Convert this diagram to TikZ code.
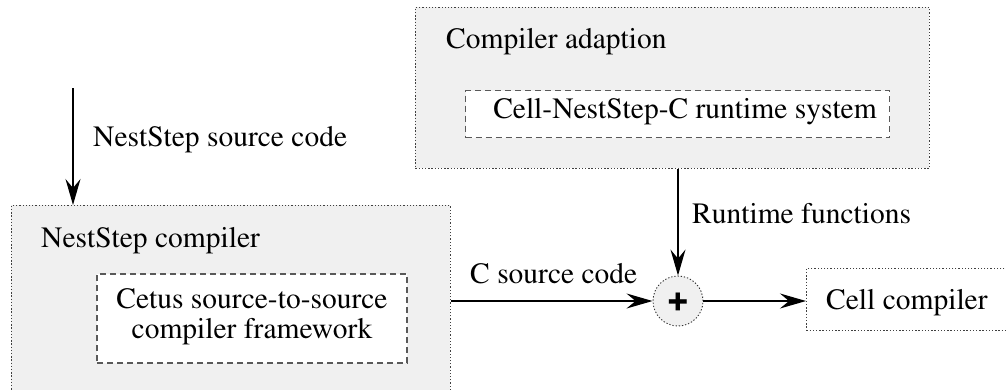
\documentclass[tikz,border=0pt]{standalone}
\usepackage[T1]{fontenc}
\renewcommand{\rmdefault}{ptm}
\usetikzlibrary{arrows.meta}

\tikzset{
  groupbox/.style={draw=black!75, fill=black!6, line width=0.9pt,
    dash pattern=on 1.3pt off 1.9pt, inner sep=0pt},
  partbox/.style={draw=black!65, fill=white, line width=1.3pt,
    dash pattern=on 6pt off 4pt, inner sep=0pt},
  unitbox/.style={draw=black!75, fill=white, line width=0.9pt,
    dash pattern=on 1.3pt off 1.9pt, inner sep=0pt},
  joinnode/.style={circle, draw=black!80, fill=black!6, line width=0.9pt,
    dash pattern=on 1.3pt off 1.9pt, minimum size=50pt, inner sep=0pt},
  lbl/.style={inner sep=0pt, anchor=base west},
  flow/.style={line width=1.4pt, -{Stealth[length=26pt, width=15pt, inset=9pt]}},
}

\begin{document}
\begin{tikzpicture}[x=1pt, y=-1pt, font=\fontsize{29.5}{30}\selectfont]
\clip (0,0) rectangle (1006,389);

% NestStep compiler group
\node[groupbox, minimum width=439pt, minimum height=200pt, anchor=north west] (nsc) at (11,205) {};
\node[lbl] (nsctitle) at (41,247) {NestStep compiler};
\node[partbox, minimum width=310pt, minimum height=89pt] (cetus) at (252,318.5) {};
\node[align=center, inner sep=0pt] (cetustext) at (252,317) {Cetus source-to-source\\compiler framework};

% Compiler adaption group
\node[groupbox, minimum width=514pt, minimum height=161pt, anchor=north west] (adapt) at (415,7) {};
\node[lbl] (adapttitle) at (446,48) {Compiler adaption};
\node[partbox, minimum width=424pt, minimum height=47pt, anchor=north west] (rts) at (465,90) {};
\node[lbl, anchor=base] (rtstext) at (685,118) {Cell-NestStep-C runtime system};

% Merge point and back end
\node[joinnode] (plus) at (678,301) {\fontfamily{phv}\bfseries\fontsize{37}{37}\selectfont +};
\node[unitbox, minimum width=220pt, minimum height=62pt, anchor=north west] (cellc) at (806,268) {};
\node[lbl] (cellctext) at (826,309) {Cell compiler};

% Input
\coordinate (src) at (73,88);
\draw[flow] (src) -- (src |- nsc.north);
\node[lbl] (srclabel) at (93,146) {NestStep source code};

% Connections
\draw[flow] (nsc.east |- plus) -- (plus.west);
\node[lbl] (clabel) at (470,283) {C source code};
\draw[flow] (plus |- adapt.south) -- (plus.north);
\node[lbl] (rtlabel) at (692,223) {Runtime functions};
\draw[flow] (plus.east) -- (cellc.west |- plus);
\end{tikzpicture}
\end{document}
